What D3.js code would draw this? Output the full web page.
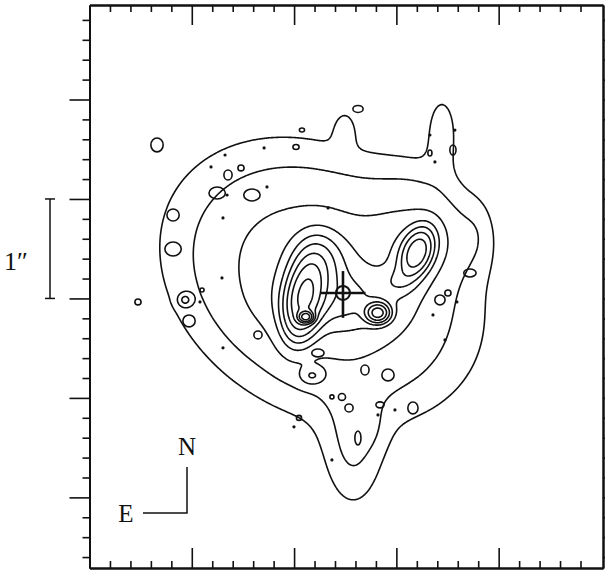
<!DOCTYPE html>
<html lang="en">
<head>
<meta charset="UTF-8">
<title>Contour map</title>
<style>
  html, body { margin: 0; background: #fff; }
  svg { display: block; }
  .lbl { font-family: "Liberation Serif", "DejaVu Serif", serif; fill: #111; }
</style>
</head>
<body>
<svg id="chart" width="605" height="571"></svg>
<script src="https://cdn.jsdelivr.net/npm/d3@7"></script>
<script>
  // offsets in arcsec, x grows to the west (right), y to the north (up)
  const levels = [1, 2, 4, 6.5, 9, 12, 16, 21, 28, 37, 50]

  // emission components: [x, y, peak, sigmaX, sigmaY, rotation deg]
  const halo   = [[2.273, 3.166, 6.5, 0.88, 0.68, -35]]
  const knots  = [
    [2.097, 3.005, 22, 0.117, 0.26, -10],   // west lobe
    [2.116, 2.814, 40, 0.044, 0.035, 0],    // west core
    [2.255, 3.367, 6, 0.17, 0.21, 0],       // west lobe shoulder
    [2.820, 2.854, 18, 0.075, 0.065, 0],    // south knot
    [3.201, 3.457, 15, 0.10, 0.17, -20],    // north-east knot
    [2.175, 2.221, 4, 0.08, 0.06, 0],       // southern blob
    [0.934, 2.985, 3.5, 0.044, 0.044, 0]    // eastern blob
  ]
  const diffuse = [
    [2.448, 2.975, 4, 0.37, 0.20, 0],       // bridge west lobe - south knot
    [3.016, 3.166, 2.5, 0.12, 0.10, 0],     // bridge south knot - NE knot
    [3.229, 3.588, 3.2, 0.32, 0.28, 0],     // NE plateau
    [3.446, 4.693, 1.6, 0.10, 0.25, 0],     // NE plume
    [2.497, 4.714, 0.9, 0.08, 0.14, 0],     // north spike
    [3.797, 3.668, 0.7, 0.12, 0.25, 0],     // west bump
    [3.231, 4.141, 0.8, 0.35, 0.25, 0],     // NW shoulder
    [2.576, 1.477, 1.8, 0.20, 0.43, 0],     // southern tail
    [2.743, 1.708, 0.5, 0.10, 0.16, 0]      // tail tongue
  ]

  // small isolated islands [x, y, rx, ry] and single-pixel dots [x, y]
  const islands = [
    [0.660, 4.543, 0.06, 0.07], [2.625, 4.905, 0.05, 0.035], [2.077, 4.693, 0.025, 0.02],
    [2.019, 4.523, 0.03, 0.025], [1.481, 4.312, 0.03, 0.03], [1.354, 4.241, 0.04, 0.05],
    [1.588, 4.04, 0.08, 0.06], [1.248, 4.06, 0.08, 0.06], [0.817, 3.839, 0.06, 0.06],
    [0.817, 3.497, 0.08, 0.07], [0.973, 2.774, 0.06, 0.06], [1.1, 3.085, 0.02, 0.02],
    [0.474, 2.965, 0.03, 0.03], [2.233, 2.452, 0.06, 0.04], [2.693, 2.281, 0.04, 0.05],
    [2.918, 2.231, 0.06, 0.06], [2.468, 2.01, 0.035, 0.035], [2.37, 2.01, 0.02, 0.02],
    [2.537, 1.899, 0.04, 0.04], [2.84, 1.93, 0.04, 0.03], [2.048, 1.799, 0.025, 0.025],
    [2.624, 1.598, 0.03, 0.07], [3.553, 4.492, 0.03, 0.05], [3.328, 4.462, 0.02, 0.03],
    [3.426, 2.985, 0.05, 0.05], [3.504, 3.055, 0.03, 0.03], [3.719, 3.256, 0.06, 0.04],
    [3.162, 1.899, 0.05, 0.06], [1.647, 2.633, 0.04, 0.04]
  ]
  const dots = [
    [1.707, 4.513], [1.325, 4.442], [1.188, 4.322], [1.345, 4.04], [2.332, 3.91],
    [1.305, 3.809], [1.295, 3.206], [1.08, 2.965], [1.305, 2.503], [3.572, 4.693],
    [3.377, 4.372], [3.328, 4.643], [3.592, 2.965], [3.358, 2.834], [3.475, 2.583],
    [2.986, 1.879], [2.82, 1.829], [1.999, 1.709], [2.37, 1.377], [1.735, 4.121]
  ]

  const nucleus = [2.478, 3.055]
  const xMajor = [1, 2, 3, 4]
  const yMajor = [1, 2, 3, 4, 5]
  const xMinor = d3.range(0.2, 5.0, 0.2).filter(v => Math.abs(v - Math.round(v)) > 0.01)
  const yMinor = d3.range(0.4, 5.9, 0.2).filter(v => Math.abs(v - Math.round(v)) > 0.01)

  const xDomain = [0, 5.02], yDomain = [0.29, 5.95]
  const xScale = d3.scaleLinear().domain(xDomain).range([89.5, 603])
  const yScale = d3.scaleLinear().domain(yDomain).range([568, 5])

  const svg = d3.select('#chart')

  // sample the model on a grid
  const step = 0.01
  const nx = Math.round((xDomain[1] - xDomain[0]) / step) + 1
  const ny = Math.round((yDomain[1] - yDomain[0]) / step) + 1
  const values = new Float64Array(nx * ny)
  const comps = halo.concat(knots, diffuse)
  comps.forEach(([cx, cy, a, sx, sy, rot]) => {
    const t = rot * Math.PI / 180, c = Math.cos(t), s = Math.sin(t)
    const reach = 4.5 * Math.max(sx, sy)
    const i0 = Math.max(0, Math.floor((cx - reach - xDomain[0]) / step))
    const i1 = Math.min(nx - 1, Math.ceil((cx + reach - xDomain[0]) / step))
    const j0 = Math.max(0, Math.floor((yDomain[1] - (cy + reach)) / step))
    const j1 = Math.min(ny - 1, Math.ceil((yDomain[1] - (cy - reach)) / step))
    for (let j = j0; j <= j1; j++) {
      const dy = (yDomain[1] - j * step) - cy
      for (let i = i0; i <= i1; i++) {
        const dx = (xDomain[0] + i * step) - cx
        const u = (dx * c + dy * s) / sx
        const v = (-dx * s + dy * c) / sy
        values[j * nx + i] += a * Math.exp(-0.5 * (u * u + v * v))
      }
    }
  })

  const contours = d3.contours().size([nx, ny]).thresholds(levels)(values)
  const proj = d3.geoTransform({
    point: function (x, y) {
      this.stream.point(xScale(xDomain[0] + (x - 0.5) * step), yScale(yDomain[1] - (y - 0.5) * step))
    }
  })
  const path = d3.geoPath(proj)

  const plot = svg.append('g')
  plot.selectAll('path.c')
    .data(contours)
    .join('path')
    .attr('class', 'c')
    .attr('d', path)
    .attr('fill', 'none')
    .attr('stroke', '#111')
    .attr('stroke-width', 1.6)
    .attr('stroke-linejoin', 'round')

  plot.selectAll('ellipse.isl')
    .data(islands)
    .join('ellipse')
    .attr('class', 'isl')
    .attr('cx', d => xScale(d[0]))
    .attr('cy', d => yScale(d[1]))
    .attr('rx', d => xScale(d[2]) - xScale(0))
    .attr('ry', d => yScale(0) - yScale(d[3]))
    .attr('fill', 'none')
    .attr('stroke', '#111')
    .attr('stroke-width', 1.6)

  plot.selectAll('circle.dot')
    .data(dots)
    .join('circle')
    .attr('class', 'dot')
    .attr('cx', d => xScale(d[0]))
    .attr('cy', d => yScale(d[1]))
    .attr('r', 1.6)
    .attr('fill', '#111')

  // nucleus marker
  const arm = 0.22
  const nx0 = xScale(nucleus[0]), ny0 = yScale(nucleus[1])
  const mark = svg.append('g').attr('stroke', '#111').attr('fill', 'none')
  mark.append('line').attr('x1', xScale(nucleus[0] - arm)).attr('x2', xScale(nucleus[0] + arm))
    .attr('y1', ny0).attr('y2', ny0).attr('stroke-width', 2.6)
  mark.append('line').attr('x1', nx0).attr('x2', nx0)
    .attr('y1', yScale(nucleus[1] + arm)).attr('y2', yScale(nucleus[1] - 0.25)).attr('stroke-width', 2.6)
  mark.append('circle').attr('cx', nx0).attr('cy', ny0).attr('r', 7).attr('stroke-width', 2)

  // frame with inward ticks on all four sides
  const W = xScale.range(), H = yScale.range()
  const axes = [
    [d3.axisTop(xScale), `translate(0,${H[1]})`, xMinor, xMajor],
    [d3.axisBottom(xScale), `translate(0,${H[0]})`, xMinor, xMajor],
    [d3.axisRight(yScale), `translate(${W[0]},0)`, yMinor, yMajor],
    [d3.axisLeft(yScale), `translate(${W[1]},0)`, yMinor, yMajor]
  ]
  axes.forEach(([ax, tr, minor, major]) => {
    [[minor, -7], [major, -20]].forEach(([vals, len]) => {
      const g = svg.append('g').attr('transform', tr)
        .call(ax.tickValues(vals).tickSize(len).tickSizeOuter(0).tickFormat(''))
      g.select('.domain').attr('stroke', '#111').attr('stroke-width', 2)
      g.selectAll('.tick line').attr('stroke', '#111').attr('stroke-width', 1.6)
    })
  })

  // 1 arcsec scale bar
  const bar = svg.append('g').attr('stroke', '#111').attr('stroke-width', 1.5)
  bar.append('line').attr('x1', 50).attr('x2', 50).attr('y1', yScale(4)).attr('y2', yScale(3))
  bar.append('line').attr('x1', 45).attr('x2', 55).attr('y1', yScale(4)).attr('y2', yScale(4))
  bar.append('line').attr('x1', 45).attr('x2', 55).attr('y1', yScale(3)).attr('y2', yScale(3))
  svg.append('text').attr('class', 'lbl').attr('x', 4).attr('y', 270)
    .attr('font-size', 26).text('1\u2033')

  // orientation
  const comp = svg.append('g').attr('stroke', '#111').attr('stroke-width', 1.5).attr('fill', 'none')
  comp.append('polyline').attr('points', '187,467 187,513 143,513')
  svg.append('text').attr('class', 'lbl').attr('x', 187).attr('y', 455)
    .attr('text-anchor', 'middle').attr('font-size', 25).text('N')
  svg.append('text').attr('class', 'lbl').attr('x', 126).attr('y', 522)
    .attr('text-anchor', 'middle').attr('font-size', 25).text('E')
</script>
</body>
</html>
